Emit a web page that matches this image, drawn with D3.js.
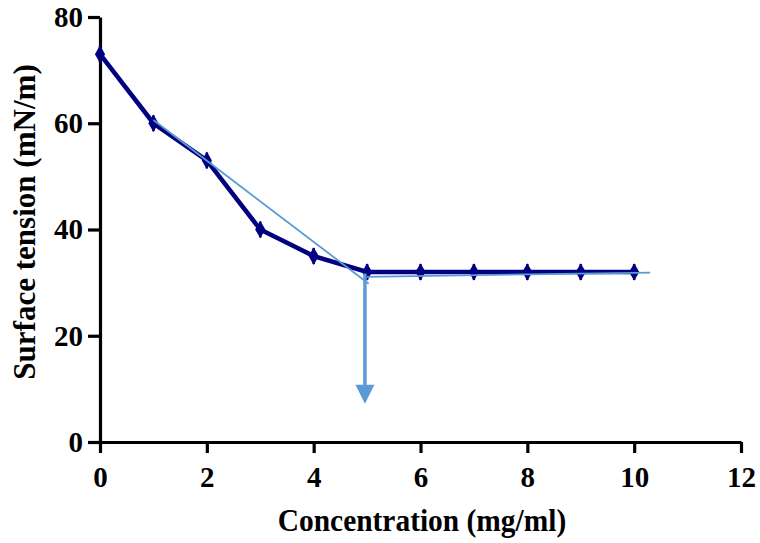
<!DOCTYPE html>
<html>
<head>
<meta charset="utf-8">
<script src="https://cdn.jsdelivr.net/npm/d3@7"></script>
<style>
body { margin: 0; background: #fff; }
text { font-family: "Liberation Serif", "Times New Roman", serif; font-weight: bold; fill: #000; }
</style>
</head>
<body>
<div id="chart"></div>
<script>
var conc = [0, 1, 2, 3, 4, 5, 6, 7, 8, 9, 10];
var tension = [73, 60, 53, 40, 35, 32, 32, 32, 32, 32, 32];
var fit1 = [[1.0, 60.6], [5.03, 29.8]];
var fit2 = [[5.0, 31.1], [10.3, 31.9]];
var arrow = [[4.96, 31.7], [4.96, 7.2]];
var xTicks = [0, 2, 4, 6, 8, 10, 12];
var yTicks = [0, 20, 40, 60, 80];

function draw() {
    var w = 760, h = 543;
    var svg = d3.select("#chart").append("svg")
        .attr("width", w)
        .attr("height", h);

    var x = d3.scaleLinear().domain([0, 12]).range([100, 741]);
    var y = d3.scaleLinear().domain([0, 80]).range([442, 17]);

    var xAxis = svg.append("g")
        .attr("transform", "translate(0," + y(0) + ")")
        .call(d3.axisBottom(x).tickValues(xTicks).tickSize(11).tickPadding(13).tickSizeOuter(0));
    var yAxis = svg.append("g")
        .attr("transform", "translate(" + x(0) + ",0)")
        .call(d3.axisLeft(y).tickValues(yTicks).tickSize(12).tickPadding(5).tickSizeOuter(0));
    [xAxis, yAxis].forEach(function(a) {
        a.select(".domain").attr("stroke", "#000").attr("stroke-width", 3.2);
        a.selectAll(".tick line").attr("stroke", "#000").attr("stroke-width", 3.2);
        a.selectAll(".tick text").style("font-size", "29px")
            .style("font-family", "Liberation Serif").style("font-weight", "bold");
    });

    var line = d3.line()
        .x(function(d) { return x(d[0]); })
        .y(function(d) { return y(d[1]); });

    var pts = conc.map(function(c, i) { return [c, tension[i]]; });

    svg.append("path")
        .datum(pts)
        .attr("d", line)
        .attr("fill", "none")
        .attr("stroke", "#000080")
        .attr("stroke-width", 4.5);

    // error caps and diamond markers
    svg.selectAll(".err").data(pts).enter().append("line")
        .attr("x1", function(d) { return x(d[0]); })
        .attr("x2", function(d) { return x(d[0]); })
        .attr("y1", function(d) { return y(d[1]) - 8; })
        .attr("y2", function(d) { return y(d[1]) + 8; })
        .attr("stroke", "#000080")
        .attr("stroke-width", 2.5);
    svg.selectAll(".pt").data(pts).enter().append("path")
        .attr("transform", function(d) { return "translate(" + x(d[0]) + "," + y(d[1]) + ")"; })
        .attr("d", d3.symbol().type(d3.symbolDiamond).size(90))
        .attr("fill", "#000080");

    [fit1, fit2].forEach(function(f) {
        svg.append("path")
            .datum(f)
            .attr("d", line)
            .attr("fill", "none")
            .attr("stroke", "#5b9bd5")
            .attr("stroke-width", 1.8);
    });

    // arrow down to the x value of the break
    var ax = x(arrow[0][0]);
    var tipY = y(arrow[1][1]);
    svg.append("line")
        .attr("x1", ax).attr("x2", ax)
        .attr("y1", y(arrow[0][1])).attr("y2", tipY - 16)
        .attr("stroke", "#5b9bd5")
        .attr("stroke-width", 3.5);
    svg.append("path")
        .attr("d", "M" + (ax - 9.5) + "," + (tipY - 19) + "L" + (ax + 9.5) + "," + (tipY - 19) + "L" + ax + "," + tipY + "Z")
        .attr("fill", "#5b9bd5");

    svg.append("text")
        .attr("transform", "translate(422,531) scale(0.92,1)")
        .attr("text-anchor", "middle")
        .style("font-size", "32px")
        .text("Concentration (mg/ml)");
    svg.append("text")
        .attr("transform", "translate(35,222) rotate(-90) scale(0.97,1)")
        .attr("text-anchor", "middle")
        .style("font-size", "32px")
        .text("Surface tension (mN/m)");
}

draw();
</script>
</body>
</html>
